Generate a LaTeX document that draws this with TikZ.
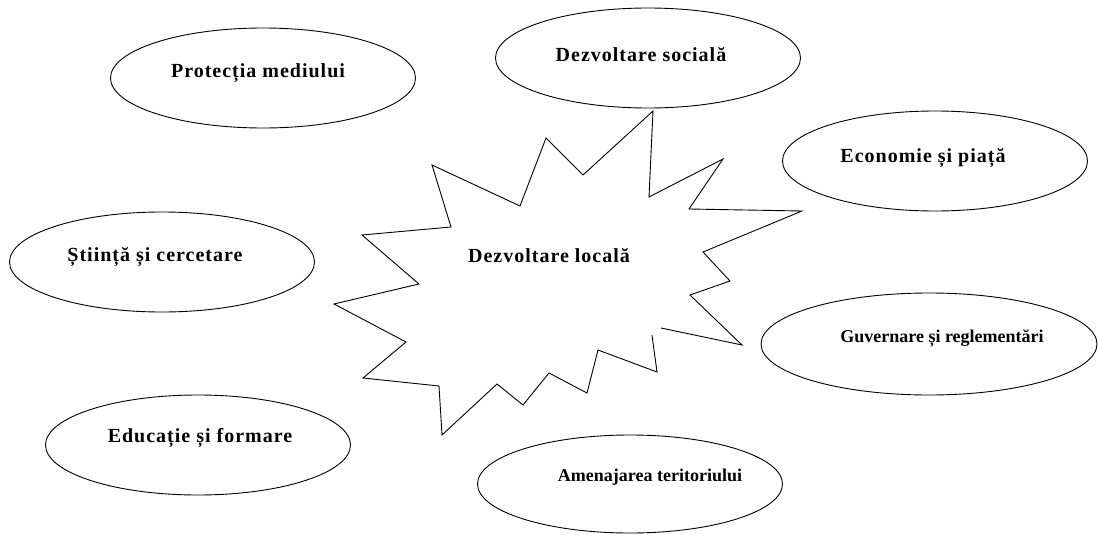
\documentclass[tikz,border=0pt]{standalone}
\usepackage{fontspec}
\setmainfont{Liberation Serif}
\newfontfamily\wordfont{Liberation Serif}[LetterSpace=5]
\usepackage{xcolor}
\definecolor{inkBlack}{HTML}{000000}
\usepackage{tikz}
\usetikzlibrary{
    shapes.geometric
}
\tikzset{
    % Base style for all texts
    word base/.style={
        font=\wordfont\bfseries\fontsize{20}{24}\selectfont,
        align=center,
        text=inkBlack,
        inner sep=0pt,
    },
    % Condensed texts
    word narrow/.style={
        word base,
        font=\rmfamily\bfseries\fontsize{18}{22}\selectfont,
    },
    % Topic ellipses round the star
    topic/.style={
        ellipse,
        draw=inkBlack,
        line width=0.9pt,
        minimum width=305pt,
        minimum height=100pt,
        inner sep=0pt,
    },
    % Star outline
    star line/.style={
        draw=inkBlack,
        line width=0.9pt,
        line join=miter,
    },
}

\begin{document}
\begin{tikzpicture}[x=1pt, y=-1pt]
    \useasboundingbox (0,0) rectangle (1098,535);

    % ellipses
    \node (protectia) [topic] at (263,78) {};
    \node (sociala) [topic] at (648,58) {};
    \node (economie) [topic] at (935,161) {};
    \node (stiinta) [topic] at (162,262) {};
    \node (guvernare) [topic, minimum width=336pt, minimum height=102pt] at (929,344) {};
    \node (educatie) [topic] at (198,445) {};
    \node (amenajare) [topic, minimum height=98pt] at (630,484) {};

    % texts
    \node (protectiaText) [word base] at (258,73) {Protecția mediului};
    \node (socialaText) [word base] at (641,55) {Dezvoltare socială};
    \node (economieText) [word base] at (923,158) {Economie și piață};
    \node (stiintaText) [word base] at (155,257) {Știință și cercetare};
    \node (guvernareText) [word narrow] at (942,338) {Guvernare și reglementări};
    \node (educatieText) [word base] at (200,438) {Educație și formare};
    \node (amenajareText) [word narrow] at (650,477) {Amenajarea teritoriului};

    % star
    \draw [star line] (652,335) -- (657,372) -- (598,350) -- (587,393)
        -- (549,373) -- (523,405) -- (497,384) -- (442,435) -- (439,386)
        -- (363,378) -- (406,342) -- (334,304) -- (419,284) -- (362,235)
        -- (451,227) -- (432,165) -- (520,206) -- (546,138) -- (583,175)
        -- (653,111) -- (649,197) -- (723,159) -- (689,209) -- (802,211)
        -- (703,252) -- (730,281) -- (690,295) -- (742,345) -- (661,328);
    \node (hubText) [word base] at (549,256) {Dezvoltare locală};
\end{tikzpicture}
\end{document}
